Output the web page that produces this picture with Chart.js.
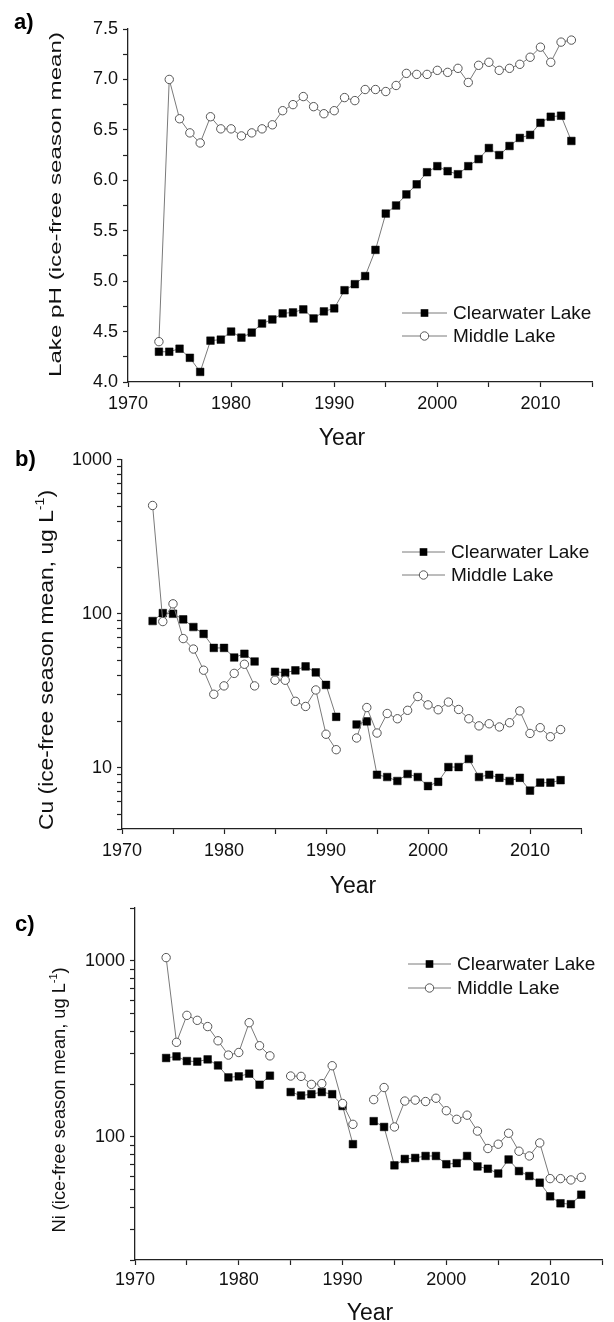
<!DOCTYPE html>
<html><head><meta charset="utf-8">
<script src="https://cdn.jsdelivr.net/npm/chart.js@4.4.1/dist/chart.umd.min.js"></script>
<style>
html,body{margin:0;padding:0;background:#fff;}
body{width:614px;height:1322px;position:relative;overflow:hidden;}
.box{position:absolute;left:0;width:614px;}
</style></head><body>
<div class="box" style="top:0px;height:456px"><canvas id="ca"></canvas></div>
<div class="box" style="top:444px;height:458px"><canvas id="cb"></canvas></div>
<div class="box" style="top:892px;height:430px"><canvas id="cc"></canvas></div>
<script>
// ---------- data ----------
const years = [1973,1974,1975,1976,1977,1978,1979,1980,1981,1982,1983,1984,1985,1986,1987,1988,1989,1990,1991,1992,1993,1994,1995,1996,1997,1998,1999,2000,2001,2002,2003,2004,2005,2006,2007,2008,2009,2010,2011,2012,2013];

const phClearwater = [4.30,4.30,4.33,4.24,4.10,4.41,4.42,4.50,4.44,4.49,4.58,4.62,4.68,4.69,4.72,4.63,4.70,4.73,4.91,4.97,5.05,5.31,5.67,5.75,5.86,5.96,6.08,6.14,6.09,6.06,6.14,6.21,6.32,6.25,6.34,6.42,6.45,6.57,6.63,6.64,6.39];
const phMiddle     = [4.40,7.00,6.61,6.47,6.37,6.63,6.51,6.51,6.44,6.47,6.51,6.55,6.69,6.75,6.83,6.73,6.66,6.69,6.82,6.79,6.90,6.90,6.88,6.94,7.06,7.05,7.05,7.09,7.07,7.11,6.97,7.14,7.17,7.09,7.11,7.15,7.22,7.32,7.17,7.37,7.39];

const cuClearwater = [89.7,101,100,92,82,74,60,60,52,55,49,null,42,41.4,42.9,45.5,41.6,34.5,21.4,null,19.1,20,9.0,8.7,8.2,9.1,8.7,7.6,8.1,10.1,10.1,11.4,8.7,9.0,8.6,8.2,8.6,7.1,8.0,8.0,8.3];
const cuMiddle     = [505,89,116,69,59,43,30,34,41,47,34,null,37,37,27,25,32,16.5,13.1,null,15.6,24.6,16.8,22.5,20.8,23.6,29,25.6,23.8,26.7,23.9,20.8,18.7,19.3,18.4,19.6,23.4,16.7,18.2,15.9,17.7];

const niClearwater = [281,287,270,268,276,255,218,221,229,198,223,null,180,172,175,180,175,150,91,null,123,114,69,75,76,78,78,70,71,78,68,66,62,74.5,64,60,55,46,42,41.5,47];
const niMiddle     = [1045,345,491,460,424,352,292,302,446,330,289,null,222,221,199,201,254,155,118,null,163,191,114,160,162,159,166,141,126,133,108,86,91,105,83,78,92.5,58,58,57,59];

const xMajorYears = [1970,1980,1990,2000,2010];
const xMinorYears = [1975,1985,1995,2005,2015];
const phTickLabels = ['4.0','4.5','5.0','5.5','6.0','6.5','7.0','7.5'];
const cuTickLabels = [10,100,1000];
const niTickLabels = [100,1000];
const seriesNames = ['Clearwater Lake','Middle Lake'];

// ---------- styling ----------
const FONT = '"Liberation Sans", Arial, Helvetica, sans-serif';
const LINE = '#7a7a7a';
const AXIS = '#222';
Chart.defaults.font.family = FONT;

function pts(vals){ return years.map((y,i)=>({x:y, y:vals[i]})); }

function xScale(axisH, pad){
  return {
    type:'linear', min:1970, max:2015,
    afterBuildTicks: s => { s.ticks = xMajorYears.concat(xMinorYears).sort((a,b)=>a-b).map(v=>({value:v})); },
    afterFit: s => { s.height = axisH; },
    ticks:{autoSkip:false, maxRotation:0, minRotation:0, padding:pad, color:'#111', font:{size:18},
      callback: v => xMajorYears.includes(v) ? String(v) : ''},
    grid:{drawOnChartArea:false, drawTicks:true, tickLength:5, tickColor:AXIS, tickWidth:1.2},
    border:{display:true, color:AXIS, width:1.3}
  };
}

function logTicks(min, max){
  const out = [];
  for (let d = 1; d <= 10000; d *= 10)
    for (let m = 1; m <= 9; m++){ const v = m*d; if (v >= min-1e-9 && v <= max+1e-9) out.push({value:v}); }
  return out;
}

const decor = {
  id:'decor',
  afterDraw(chart, args, o){
    const ctx = chart.ctx, off = o.offset;
    ctx.save();
    ctx.fillStyle = '#000';
    // panel label
    ctx.font = 'bold 22px ' + FONT;
    ctx.textAlign = 'left'; ctx.textBaseline = 'alphabetic';
    ctx.fillText(o.panel, o.panelX, o.panelY - off);
    // x title
    ctx.font = o.xFont + 'px ' + FONT;
    ctx.textAlign = 'center';
    ctx.fillStyle = '#111';
    ctx.fillText('Year', o.xTitleX, o.xTitleY - off);
    // y title (rotated, with optional superscript)
    const f = o.yFont, fs = Math.round(f*0.62);
    let w = 0;
    o.yParts.forEach(p => { ctx.font = (p.sup ? fs : f) + 'px ' + FONT; p.w = ctx.measureText(p.t).width; w += p.w; });
    const sx = o.yLen / w;
    ctx.translate(o.yBaseX, o.yCenterY - off);
    ctx.rotate(-Math.PI/2);
    ctx.scale(sx, 1);
    ctx.textAlign = 'left'; ctx.textBaseline = 'alphabetic';
    let x = -w/2;
    o.yParts.forEach(p => {
      ctx.font = (p.sup ? fs : f) + 'px ' + FONT;
      ctx.fillText(p.t, x, p.sup ? -f*0.42 : 0);
      x += p.w;
    });
    ctx.setTransform(1,0,0,1,0,0);
    ctx.restore();
    // legend
    ctx.save();
    const lg = o.legend;
    seriesNames.forEach((name, i) => {
      const y = lg.ys[i] - off;
      ctx.strokeStyle = LINE; ctx.lineWidth = 1;
      ctx.beginPath(); ctx.moveTo(lg.x1, y); ctx.lineTo(lg.x2, y); ctx.stroke();
      const cx = (lg.x1 + lg.x2)/2;
      if (i === 0){ ctx.fillStyle = '#000'; ctx.fillRect(cx-3.8, y-3.8, 7.6, 7.6); }
      else { ctx.fillStyle = '#fff'; ctx.strokeStyle = '#555'; ctx.beginPath(); ctx.arc(cx, y, 4.2, 0, Math.PI*2); ctx.fill(); ctx.stroke(); }
      ctx.fillStyle = '#111';
      ctx.font = lg.font + 'px ' + FONT;
      ctx.textAlign = 'left'; ctx.textBaseline = 'middle';
      ctx.fillText(name, lg.tx, y + 1);
    });
    ctx.restore();
  }
};

function build(id, c){
  const datasets = [
    {label:seriesNames[0], data:pts(c.cl), borderColor:LINE, borderWidth:1, pointStyle:'rect', pointRadius:5.4,
     pointBackgroundColor:'#000', pointBorderColor:'#000', pointBorderWidth:0.5, spanGaps:false, tension:0, order:1},
    {label:seriesNames[1], data:pts(c.ml), borderColor:LINE, borderWidth:1, pointStyle:'circle', pointRadius:4.2,
     pointBackgroundColor:'#fff', pointBorderColor:'#555', pointBorderWidth:1, spanGaps:false, tension:0, order:0}
  ];
  const y = Object.assign({
    afterFit: s => { s.width = c.plot.left; },
    grid:{drawOnChartArea:false, drawTicks:true, tickLength:5, tickColor:AXIS, tickWidth:1.2},
    border:{display:true, color:AXIS, width:1.3}
  }, c.y);
  c.decor.offset = c.top;
  return new Chart(document.getElementById(id), {
    type:'line',
    data:{datasets},
    options:{
      responsive:true, maintainAspectRatio:false, animation:false,
      layout:{padding:{top:c.plot.top - c.top, right:614 - c.plot.right, left:0, bottom:0}},
      scales:{ x:xScale(c.top + c.height - c.plot.bottom, c.xPad), y },
      plugins:{legend:{display:false}, tooltip:{enabled:false}, decor:c.decor}
    },
    plugins:[decor]
  });
}

// a) pH
build('ca', {
  top:0, height:456, plot:{left:128, right:592, top:29, bottom:382}, xPad:6,
  cl:phClearwater, ml:phMiddle,
  y:{type:'linear', min:4, max:7.5,
     afterBuildTicks: s => { const t=[]; for (let v=4; v<=7.5001; v+=0.25) t.push({value:Math.round(v*100)/100}); s.ticks=t; },
     ticks:{autoSkip:false, padding:5, color:'#111', font:{size:18},
       callback: v => { const s = v.toFixed(1); return (Math.abs(v*2-Math.round(v*2))<1e-6 && phTickLabels.includes(s)) ? s : ''; }}},
  decor:{panel:'a)', panelX:14, panelY:29, xTitleX:342, xTitleY:445, xFont:23,
    yParts:[{t:'Lake pH (ice-free season mean)'}], yFont:17, yLen:345, yBaseX:61, yCenterY:204.5,
    legend:{x1:402, x2:447, tx:453, ys:[313,336], font:19}}
});

// b) Cu
build('cb', {
  top:444, height:458, plot:{left:122, right:581, top:459, bottom:829}, xPad:6,
  cl:cuClearwater, ml:cuMiddle,
  y:{type:'logarithmic', min:4, max:1000,
     afterBuildTicks: s => { s.ticks = logTicks(4, 1000); },
     ticks:{autoSkip:false, padding:5, color:'#111', font:{size:18},
       callback: v => cuTickLabels.includes(Math.round(v)) ? String(Math.round(v)) : ''}},
  decor:{panel:'b)', panelX:15, panelY:466, xTitleX:353, xTitleY:893, xFont:23,
    yParts:[{t:'Cu (ice-free season mean, ug L'},{t:'-1',sup:true},{t:')'}], yFont:21, yLen:340, yBaseX:53, yCenterY:660,
    legend:{x1:402, x2:445, tx:451, ys:[552,575], font:19}}
});

// c) Ni
build('cc', {
  top:892, height:430, plot:{left:135, right:602, top:908, bottom:1260}, xPad:4,
  cl:niClearwater, ml:niMiddle,
  y:{type:'logarithmic', min:20, max:2000,
     afterBuildTicks: s => { s.ticks = logTicks(20, 2000); },
     ticks:{autoSkip:false, padding:5, color:'#111', font:{size:18},
       callback: v => niTickLabels.includes(Math.round(v)) ? String(Math.round(v)) : ''}},
  decor:{panel:'c)', panelX:15, panelY:931, xTitleX:370, xTitleY:1320, xFont:23,
    yParts:[{t:'Ni (ice-free season mean, ug L'},{t:'-1',sup:true},{t:')'}], yFont:18.5, yLen:265, yBaseX:65, yCenterY:1100,
    legend:{x1:408, x2:451, tx:457, ys:[964,988], font:19}}
});
</script>
</body></html>
